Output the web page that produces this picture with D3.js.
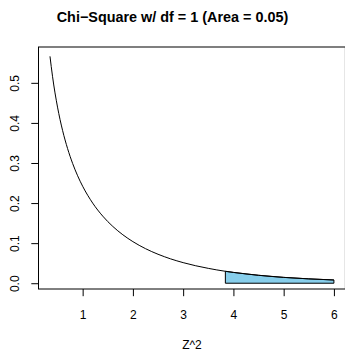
<!DOCTYPE html>
<html>
<head>
<meta charset="utf-8">
<script src="https://cdn.jsdelivr.net/npm/d3@7"></script>
<style>
  html, body { margin: 0; padding: 0; background: #fff; }
  svg { display: block; }
  text { font-family: "Liberation Sans", Arial, Helvetica, sans-serif; fill: #000; }
</style>
</head>
<body>
<svg id="chart" width="345" height="351"></svg>
<script>
// ---- Data ----
const chartTitle = "Chi\u2212Square w/ df = 1 (Area = 0.05)";
const xLabel = "Z^2";
const xTicks = [1, 2, 3, 4, 5, 6];
const yTicks = [0.0, 0.1, 0.2, 0.3, 0.4, 0.5];
const yTickLabels = ["0.0", "0.1", "0.2", "0.3", "0.4", "0.5"];
// density curve samples
const curveX = [0.35, 0.4, 0.5, 0.6, 0.7, 0.8, 0.9, 1.0, 1.2, 1.4, 1.6, 1.8, 2.0, 2.25, 2.5, 2.75, 3.0, 3.5, 3.84, 4.0, 4.5, 5.0, 5.5, 6.0];
const curveY = [0.5661, 0.5164, 0.4394, 0.3815, 0.3360, 0.2990, 0.2681, 0.2420, 0.1999, 0.1674, 0.1417, 0.1209, 0.1038, 0.0863, 0.0723, 0.0608, 0.0514, 0.0371, 0.0298, 0.0270, 0.0198, 0.0146, 0.0109, 0.0081];
// shaded tail region (upper 5%)
const shadeX = [3.84, 4.0, 4.5, 5.0, 5.5, 6.0];
const shadeY = [0.0298, 0.0270, 0.0198, 0.0146, 0.0109, 0.0081];

// ---- Layout ----
const svg = d3.select("#chart");
const plotLeft = 38.5, plotRight = 345.4, plotTop = 47, plotBottom = 289;

const x = d3.scaleLinear().domain([0.1214, 6.2286]).range([plotLeft, plotRight]);
const y = d3.scaleLinear().domain([-0.0144, 0.5894]).range([plotBottom, plotTop]);

// shaded polygon
const shadePts = shadeX.map((v, i) => [v, shadeY[i]]);
const polyPts = [[shadeX[0], 0]].concat(shadePts).concat([[shadeX[shadeX.length - 1], 0]]);
svg.append("path")
  .attr("d", d3.line().x(d => x(d[0])).y(d => y(d[1])).curve(d3.curveLinearClosed)(polyPts))
  .attr("fill", "#87CEEB")
  .attr("stroke", "#000")
  .attr("stroke-width", 1);

// density curve
const curvePts = curveX.map((v, i) => [v, curveY[i]]);
svg.append("path")
  .attr("d", d3.line().x(d => x(d[0])).y(d => y(d[1])).curve(d3.curveMonotoneX)(curvePts))
  .attr("fill", "none")
  .attr("stroke", "#000")
  .attr("stroke-width", 1);

// box
svg.append("rect")
  .attr("x", plotLeft).attr("y", plotTop)
  .attr("width", plotRight - plotLeft).attr("height", plotBottom - plotTop)
  .attr("fill", "none").attr("stroke", "#000").attr("stroke-width", 1);

// x axis
const xAxis = d3.axisBottom(x).tickValues(xTicks).tickSize(7.2).tickPadding(4).tickFormat(d3.format("d"));
const gx = svg.append("g").attr("transform", `translate(0,${plotBottom})`).call(xAxis);
gx.select(".domain").remove();
gx.selectAll(".tick line").attr("stroke", "#000");
gx.selectAll(".tick text")
  .attr("font-size", 12)
  .attr("font-family", "Liberation Sans, Arial, sans-serif")
  .attr("dy", null)
  .attr("y", 30);

// y axis
const yAxis = d3.axisLeft(y).tickValues(yTicks).tickSize(7.2).tickFormat((d, i) => yTickLabels[i]);
const gy = svg.append("g").attr("transform", `translate(${plotLeft},0)`).call(yAxis);
gy.select(".domain").remove();
gy.selectAll(".tick line").attr("stroke", "#000");
gy.selectAll(".tick text")
  .attr("font-size", 12)
  .attr("font-family", "Liberation Sans, Arial, sans-serif")
  .attr("x", null).attr("dy", null)
  .attr("text-anchor", "middle")
  .attr("transform", "translate(-19.5,0) rotate(-90)");

// title
svg.append("text")
  .attr("x", 172.5).attr("y", 21.5)
  .attr("text-anchor", "middle")
  .attr("font-weight", "bold")
  .attr("font-size", 14.4)
  .text(chartTitle);

// x label
svg.append("text")
  .attr("x", (plotLeft + plotRight) / 2).attr("y", 348.5)
  .attr("text-anchor", "middle")
  .attr("font-size", 12)
  .text(xLabel);
</script>
</body>
</html>
